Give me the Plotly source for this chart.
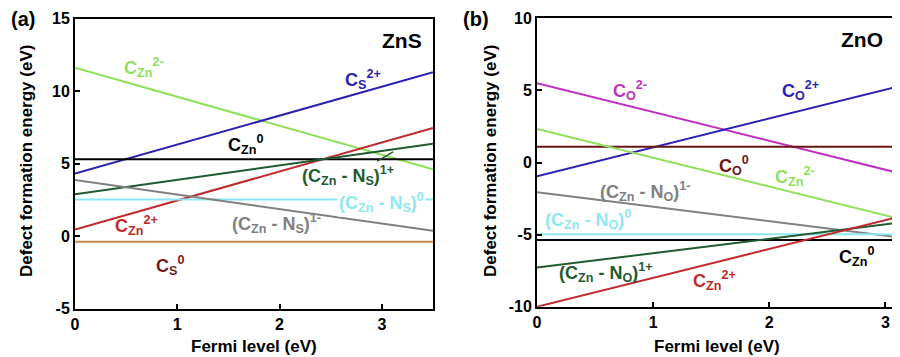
import plotly.graph_objects as go

FONT = "Arial, Liberation Sans, sans-serif"

# ---------------- Panel (a) ZnS ----------------
zns_fermi = [0.0, 3.5]
zns_names = ["C_Zn^2-", "C_S^2+", "C_Zn^0", "C_Zn^2+", "(C_Zn-N_S)^1+", "(C_Zn-N_S)^0", "(C_Zn-N_S)^1-", "C_S^0"]
zns_start = [11.6, 4.3, 5.3, 0.45, 2.88, 2.52, 3.86, -0.4]
zns_end = [4.6, 11.3, 5.3, 7.45, 6.36, 2.52, 0.36, -0.4]
zns_colors = ["#8fe05a", "#2a22b0", "#000000", "#c0282a", "#1f5a30", "#8ee8f2", "#808080", "#c8894e"]

zns_labels = ["C<sub>Zn</sub><sup>2-</sup>", "C<sub>S</sub><sup>2+</sup>", "C<sub>Zn</sub><sup>0</sup>",
              "C<sub>Zn</sub><sup>2+</sup>", "(C<sub>Zn</sub> - N<sub>S</sub>)<sup>1+</sup>",
              "(C<sub>Zn</sub> - N<sub>S</sub>)<sup>0</sup>", "(C<sub>Zn</sub> - N<sub>S</sub>)<sup>1-</sup>",
              "C<sub>S</sub><sup>0</sup>"]
zns_label_x = [0.67, 2.82, 1.67, 0.60, 2.67, 3.0, 1.97, 0.93]
zns_label_y = [11.6, 10.8, 6.3, 0.7, 4.2, 2.3, 0.85, -2.0]
zns_label_colors = ["#8fe05a", "#2a22b0", "#000000", "#c0282a", "#1f5a30", "#8ee8f2", "#808080", "#7a1818"]

# ---------------- Panel (b) ZnO ----------------
zno_fermi = [0.0, 3.1]
zno_names = ["C_O^2-", "C_O^2+", "C_O^0", "C_Zn^2-", "(C_Zn-N_O)^1-", "(C_Zn-N_O)^0", "C_Zn^0", "(C_Zn-N_O)^1+", "C_Zn^2+"]
zno_start = [5.5, -0.95, 1.1, 2.33, -2.07, -4.97, -5.37, -7.29, -10.0]
zno_end = [-0.7, 5.25, 1.1, -3.87, -5.17, -4.97, -5.37, -4.19, -3.8]
zno_colors = ["#c030c0", "#2a22b0", "#6a1414", "#8fe05a", "#808080", "#8ee8f2", "#000000", "#1f5a30", "#c0282a"]

zno_labels = ["C<sub>O</sub><sup>2-</sup>", "C<sub>O</sub><sup>2+</sup>", "C<sub>O</sub><sup>0</sup>",
              "C<sub>Zn</sub><sup>2-</sup>", "(C<sub>Zn</sub> - N<sub>O</sub>)<sup>1-</sup>",
              "(C<sub>Zn</sub> - N<sub>O</sub>)<sup>0</sup>", "C<sub>Zn</sub><sup>0</sup>",
              "(C<sub>Zn</sub> - N<sub>O</sub>)<sup>1+</sup>", "C<sub>Zn</sub><sup>2+</sup>"]
zno_label_x = [0.80, 2.27, 1.70, 2.22, 0.93, 0.44, 2.75, 0.59, 1.53]
zno_label_y = [5.0, 5.0, -0.2, -0.95, -2.0, -3.95, -6.55, -7.6, -8.15]
zno_label_colors = ["#c030c0", "#2a22b0", "#6a1414", "#8fe05a", "#808080", "#8ee8f2", "#000000", "#1f5a30", "#c0282a"]

# page body has an 8px margin; size the figure so it fits the 900x357 window
OFF = 8
W, H = 900 - OFF, 357 - OFF


def px(X):
    return (X - OFF) / W


def py(Y):
    return 1 - (Y - OFF) / H


fig = go.Figure()

for n, s, e, c in zip(zns_names, zns_start, zns_end, zns_colors):
    fig.add_trace(go.Scatter(x=zns_fermi, y=[s, e], mode="lines", name=n,
                             line=dict(color=c, width=2), xaxis="x", yaxis="y", showlegend=False))
for n, s, e, c in zip(zno_names, zno_start, zno_end, zno_colors):
    fig.add_trace(go.Scatter(x=zno_fermi, y=[s, e], mode="lines", name=n,
                             line=dict(color=c, width=2), xaxis="x2", yaxis="y2", showlegend=False))

CM = dict(xanchor="center", yanchor="middle", showarrow=False)

annotations = []
for t, x, y, c in zip(zns_labels, zns_label_x, zns_label_y, zns_label_colors):
    annotations.append(dict(text="<b>" + t + "</b>", x=x, y=y, xref="x", yref="y",
                            font=dict(family=FONT, size=18, color=c),
                            bgcolor="white" if "N<sub>S</sub>)<sup>0" in t else None, **CM))
for t, x, y, c in zip(zno_labels, zno_label_x, zno_label_y, zno_label_colors):
    annotations.append(dict(text="<b>" + t + "</b>", x=x, y=y, xref="x2", yref="y2",
                            font=dict(family=FONT, size=18, color=c), **CM))

# pointer from (C_Zn-N_S)^1+ label to its line
annotations.append(dict(x=3.11, y=5.8, ax=2.94, ay=5.1, xref="x", yref="y", axref="x", ayref="y",
                        text="", showarrow=True, arrowhead=0, arrowwidth=1.5, arrowcolor="#1f5a30"))

annotations += [
    dict(text="<b>ZnS</b>", x=3.2, y=13.5, xref="x", yref="y",
         font=dict(family=FONT, size=21, color="black"), **CM),
    dict(text="<b>ZnO</b>", x=2.8, y=8.5, xref="x2", yref="y2",
         font=dict(family=FONT, size=21, color="black"), **CM),
    dict(text="<b>(a)</b>", x=px(23), y=py(19), xref="paper", yref="paper",
         font=dict(family=FONT, size=20, color="black"), **CM),
    dict(text="<b>(b)</b>", x=px(476), y=py(19), xref="paper", yref="paper",
         font=dict(family=FONT, size=20, color="black"), **CM),
    dict(text="<b>Fermi level (eV)</b>", x=px(254), y=py(346), xref="paper", yref="paper",
         font=dict(family=FONT, size=17, color="black"), **CM),
    dict(text="<b>Fermi level (eV)</b>", x=px(717), y=py(346), xref="paper", yref="paper",
         font=dict(family=FONT, size=17, color="black"), **CM),
    dict(text="<b>Defect formation energy (eV)</b>", x=px(26), y=py(161), xref="paper", yref="paper",
         textangle=-90, font=dict(family=FONT, size=17, color="black"), **CM),
    dict(text="<b>Defect formation energy (eV)</b>", x=px(490), y=py(161), xref="paper", yref="paper",
         textangle=-90, font=dict(family=FONT, size=17, color="black"), **CM),
]

axis_common = dict(showline=True, linecolor="black", linewidth=2, mirror=True,
                   ticks="inside", ticklen=5, tickwidth=2, tickcolor="black",
                   showgrid=False, zeroline=False, automargin=False,
                   tickfont=dict(family=FONT, size=16, color="black"))

fig.update_layout(
    width=W, height=H,
    margin=dict(l=0, r=0, t=0, b=0),
    plot_bgcolor="white", paper_bgcolor="white",
    font=dict(family=FONT, size=18, color="black"),
    xaxis=dict(domain=[px(75), px(433)], range=[0, 3.5], tickvals=[0, 1, 2, 3],
               ticktext=["<b>0</b>", "<b>1</b>", "<b>2</b>", "<b>3</b>"],
               anchor="y", **axis_common),
    yaxis=dict(domain=[py(308.5), py(18.5)], range=[-5, 15], tickvals=[-5, 0, 5, 10, 15],
               ticktext=["<b>-5</b>", "<b>0</b>", "<b>5</b>", "<b>10</b>", "<b>15</b>"],
               anchor="x", **axis_common),
    xaxis2=dict(domain=[px(537), px(897)], range=[0, 3.1], tickvals=[0, 1, 2, 3],
                ticktext=["<b>0</b>", "<b>1</b>", "<b>2</b>", "<b>3</b>"],
                anchor="y2", **axis_common),
    yaxis2=dict(domain=[py(306.7), py(18.3)], range=[-10, 10], tickvals=[-10, -5, 0, 5, 10],
                ticktext=["<b>-10</b>", "<b>-5</b>", "<b>0</b>", "<b>5</b>", "<b>10</b>"],
                anchor="x2", **axis_common),
    annotations=annotations,
)

fig.write_html("out.html")
